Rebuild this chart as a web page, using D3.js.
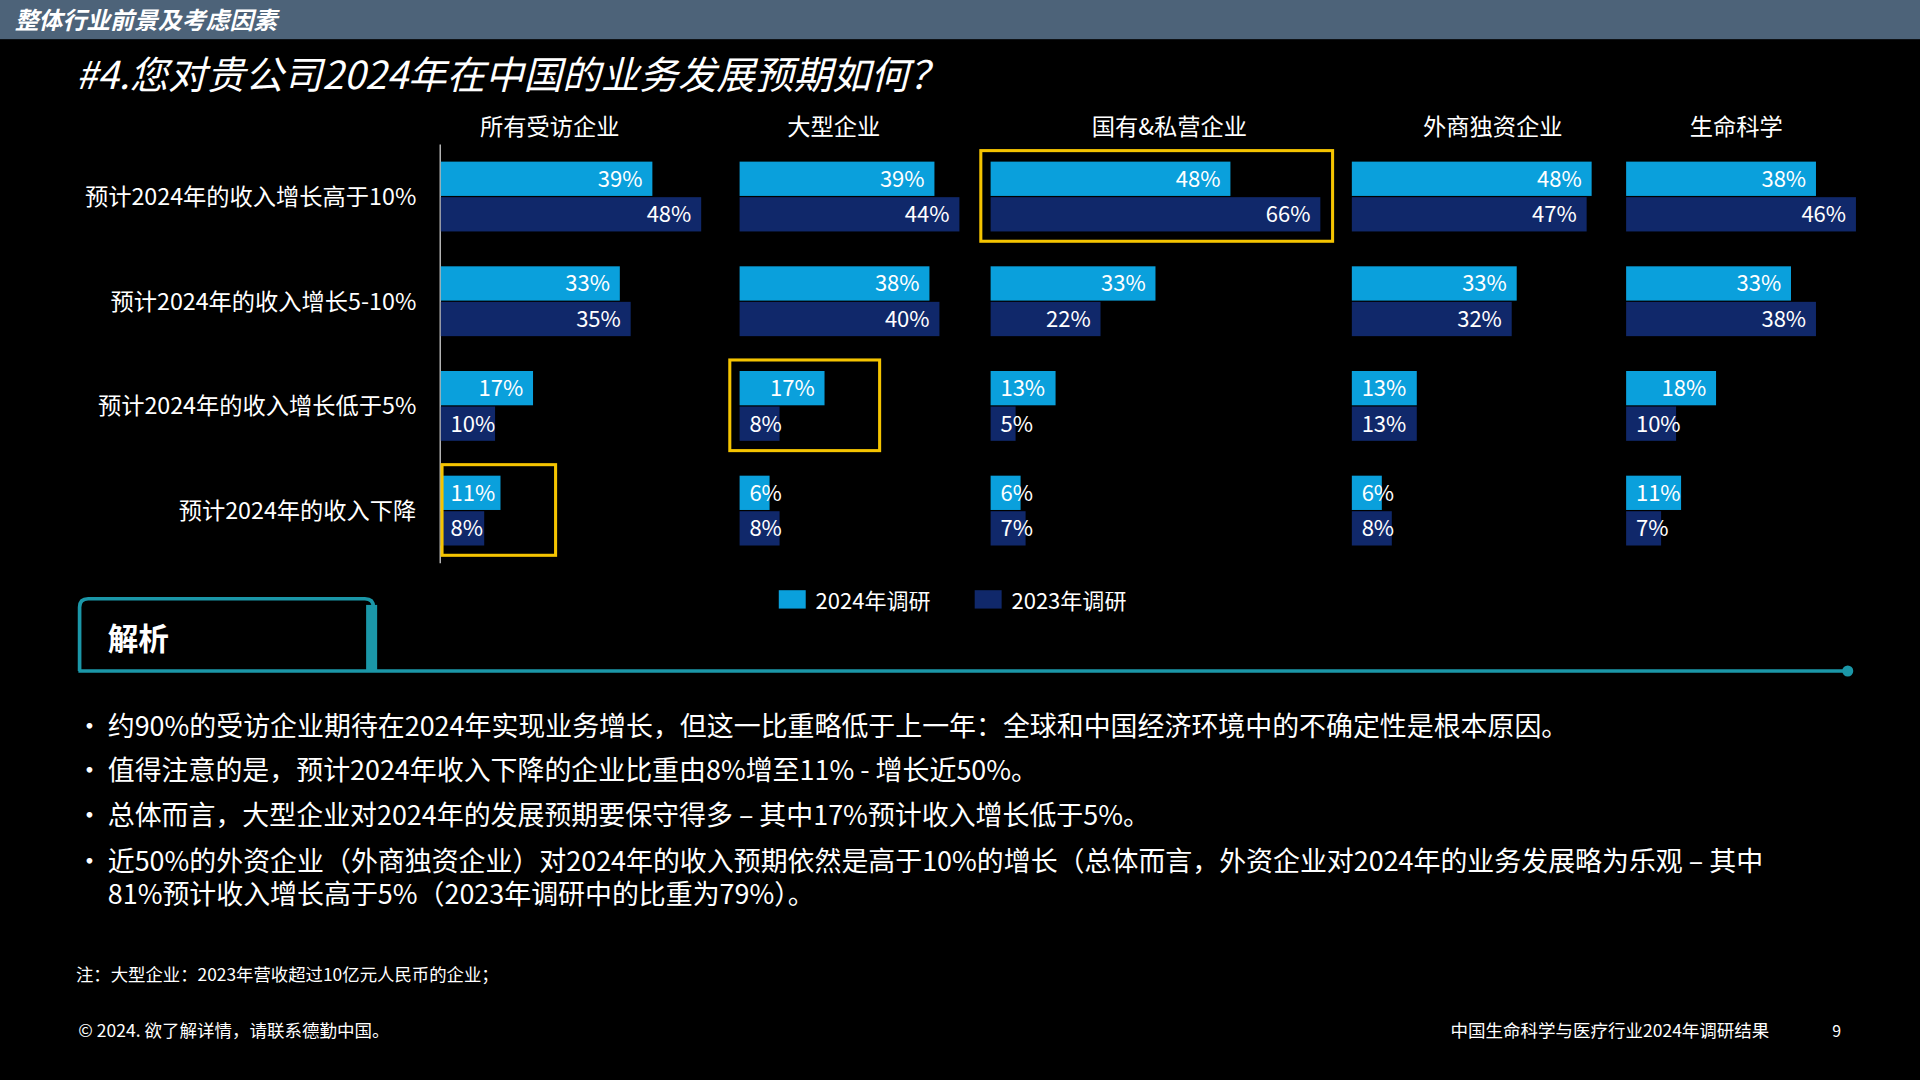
<!DOCTYPE html>
<html><head><meta charset="utf-8">
<script src="https://cdn.jsdelivr.net/npm/d3@7"></script>
<style>html,body{margin:0;background:#000;overflow:hidden}text{font-family:"Noto Sans CJK SC","Noto Sans",sans-serif}</style>
</head><body>
<script>
const groups=["所有受访企业","大型企业","国有&私营企业","外商独资企业","生命科学"];
const categories=["预计2024年的收入增长高于10%","预计2024年的收入增长5-10%","预计2024年的收入增长低于5%","预计2024年的收入下降"];
const series2024=[[39,33,17,11],[39,38,17,6],[48,33,13,6],[48,33,13,6],[38,33,18,11]];
const series2023=[[48,35,10,8],[44,40,8,8],[66,22,5,7],[47,32,13,8],[46,38,10,7]];
const seriesNames=["2024年调研","2023年调研"];
const highlights=[[2,0],[1,2],[0,3]];
const bullets=["约90%的受访企业期待在2024年实现业务增长，但这一比重略低于上一年：全球和中国经济环境中的不确定性是根本原因。",
"值得注意的是，预计2024年收入下降的企业比重由8%增至11% - 增长近50%。",
"总体而言，大型企业对2024年的发展预期要保守得多 – 其中17%预计收入增长低于5%。",
"近50%的外资企业（外商独资企业）对2024年的收入预期依然是高于10%的增长（总体而言，外资企业对2024年的业务发展略为乐观 – 其中|81%预计收入增长高于5%（2023年调研中的比重为79%）。"];
const C24="#0aa0dc",C23="#10286a";

const svg=d3.select("body").append("svg").attr("width",1920).attr("height",1080).attr("viewBox","0 0 1568 882");
svg.append("rect").attr("width",1568).attr("height",882).attr("fill","#000");
svg.append("rect").attr("width",1568).attr("height",32).attr("fill","#4d6379");
svg.append("text").attr("x",12).attr("y",24).attr("fill","#fff").attr("font-size",19.5).attr("font-weight","bold").attr("font-style","italic").text("整体行业前景及考虑因素");
svg.append("text").attr("x",62).attr("y",73).attr("fill","#fff").attr("font-size",31.5).attr("font-style","italic").text("#4.您对贵公司2024年在中国的业务发展预期如何？");

const starts=[360,604,809,1104,1328], perPct=[4.43,4.08,4.08,4.08,4.08];
const y=d3.scaleBand().domain(categories).range([117.75,459.75]).paddingInner(0.333).paddingOuter(0.1667);
const sub=d3.scaleBand().domain([0,1]).range([0,y.bandwidth()]).paddingInner(0.035);
svg.append("g").selectAll("text").data(categories).join("text").attr("x",340).attr("y",d=>y(d)+y.bandwidth()/2+7).attr("text-anchor","end").attr("fill","#fff").attr("font-size",19).text(d=>d);
svg.append("line").attr("x1",359.5).attr("x2",359.5).attr("y1",118).attr("y2",460).attr("stroke","#ddd").attr("stroke-width",1);
const xs=[];
groups.forEach((g,gi)=>{
  const x=d3.scaleLinear().domain([0,100]).range([starts[gi],starts[gi]+perPct[gi]*100]);xs.push(x);
  const centers=[449,681,955,1219,1418];
  svg.append("text").attr("x",centers[gi]).attr("y",110).attr("text-anchor","middle").attr("fill","#fff").attr("font-size",19).text(g);
  [series2024[gi],series2023[gi]].forEach((vals,si)=>{
    vals.forEach((v,ci)=>{
      const yy=y(categories[ci])+sub(si), w=x(v)-x(0);
      svg.append("rect").attr("x",x(0)).attr("y",yy).attr("width",w).attr("height",sub.bandwidth()).attr("fill",si?C23:C24);
      const big=w>=60;
      svg.append("text").attr("x",big?x(v)-8:x(0)+8).attr("y",yy+sub.bandwidth()/2+6.5).attr("text-anchor",big?"end":"start").attr("fill","#fff").attr("font-size",18).text(v+"%");
    });
  });
});
highlights.forEach(([gi,ci])=>{
  const x=xs[gi],maxv=Math.max(series2024[gi][ci],series2023[gi][ci]);
  const x0=gi==0?x(0)+1:x(0)-8, x1=x(maxv)+(gi==2?10:45);
  svg.append("rect").attr("x",x0).attr("y",y(categories[ci])-9).attr("width",x1-x0).attr("height",y.bandwidth()+17).attr("fill","none").attr("stroke","#f5c400").attr("stroke-width",2.5);
});
const lx=[636,796];
seriesNames.forEach((n,i)=>{
  svg.append("rect").attr("x",lx[i]).attr("y",482).attr("width",22).attr("height",15).attr("fill",i?C23:C24);
  svg.append("text").attr("x",lx[i]+30).attr("y",497).attr("fill","#fff").attr("font-size",18).text(n);
});
svg.append("path").attr("d","M65,548 V496 Q65,489 72,489 H298 Q305,489 305,496 V548").attr("fill","none").attr("stroke","#1b97a8").attr("stroke-width",3);
svg.append("rect").attr("x",299).attr("y",494).attr("width",9).attr("height",54).attr("fill","#1b97a8");
svg.append("line").attr("x1",64).attr("x2",1508).attr("y1",548).attr("y2",548).attr("stroke","#1b97a8").attr("stroke-width",3);
svg.append("circle").attr("cx",1509).attr("cy",548).attr("r",4.5).attr("fill","#1b97a8");
svg.append("text").attr("x",88).attr("y",531).attr("fill","#fff").attr("font-size",25).attr("font-weight","bold").text("解析");
const by=[601,637,674,711];
bullets.forEach((b,i)=>{
  svg.append("text").attr("x",62).attr("y",by[i]).attr("fill","#fff").attr("font-size",22).text("•");
  const t=svg.append("text").attr("x",88).attr("y",by[i]).attr("fill","#fff").attr("font-size",22);
  b.split("|").forEach((line,j)=>t.append("tspan").attr("x",88).attr("dy",j?27.5:0).text(line));
});
svg.append("text").attr("x",62).attr("y",801).attr("fill","#fff").attr("font-size",14.2).text("注：大型企业：2023年营收超过10亿元人民币的企业；");
svg.append("text").attr("x",64).attr("y",847).attr("fill","#fff").attr("font-size",14.3).text("© 2024. 欲了解详情，请联系德勤中国。");
svg.append("text").attr("x",1445).attr("y",847).attr("text-anchor","end").attr("fill","#fff").attr("font-size",14.3).text("中国生命科学与医疗行业2024年调研结果");
svg.append("text").attr("x",1500).attr("y",847).attr("text-anchor","middle").attr("fill","#fff").attr("font-size",13).text("9");
</script></body></html>
